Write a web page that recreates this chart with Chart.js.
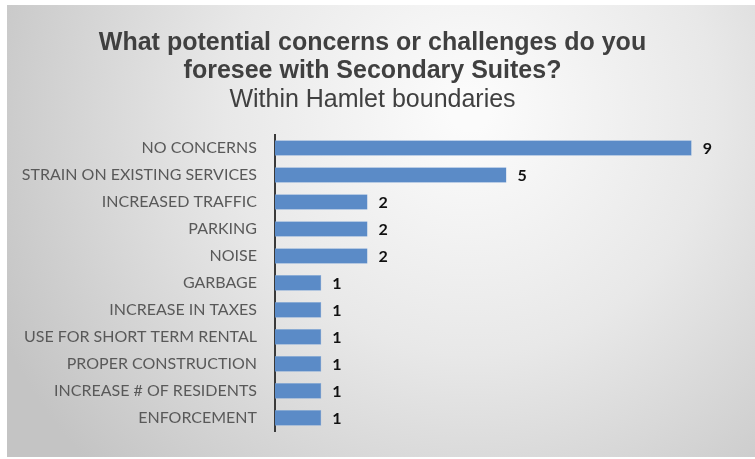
<!DOCTYPE html>
<html>
<head>
<meta charset="utf-8">
<script src="https://cdn.jsdelivr.net/npm/chart.js@4/dist/chart.umd.min.js"></script>
<style>
  body { margin: 0; background: #fff; }
  canvas { display: block; }
</style>
</head>
<body>
<canvas id="concernsChart" width="755" height="459"></canvas>
<script>
const categories = [
    'NO CONCERNS',
    'STRAIN ON EXISTING SERVICES',
    'INCREASED TRAFFIC',
    'PARKING',
    'NOISE',
    'GARBAGE',
    'INCREASE IN TAXES',
    'USE FOR SHORT TERM RENTAL',
    'PROPER CONSTRUCTION',
    'INCREASE # OF RESIDENTS',
    'ENFORCEMENT'
];
const responses = [9, 5, 2, 2, 2, 1, 1, 1, 1, 1, 1];
const titleLines = ['What potential concerns or challenges do you', 'foresee with Secondary Suites?'];
const subtitleText = 'Within Hamlet boundaries';

// gray panel with a soft light centre, like the original slide
const backdrop = {
    id: 'backdrop',
    beforeDraw(chart) {
        const c = chart.ctx;
        c.save();
        c.fillStyle = '#ffffff';
        c.fillRect(0, 0, chart.width, chart.height);
        const g = c.createRadialGradient(470, 110, 20, 470, 110, 520);
        g.addColorStop(0, '#fbfbfb');
        g.addColorStop(0.45, '#e8e8e8');
        g.addColorStop(1, '#c4c4c4');
        c.fillStyle = g;
        c.fillRect(7, 5, chart.width - 7, 452);
        c.restore();
    }
};

// value labels at the end of each bar
const valueLabels = {
    id: 'valueLabels',
    afterDatasetsDraw(chart) {
        const c = chart.ctx;
        const meta = chart.getDatasetMeta(0);
        c.save();
        c.font = 'bold 16px Lato';
        c.fillStyle = '#111111';
        c.textAlign = 'left';
        c.textBaseline = 'middle';
        meta.data.forEach((bar, i) => {
            c.fillText(responses[i], bar.x + 11, bar.y + 1);
        });
        c.restore();
    }
};

const ctx = document.getElementById('concernsChart').getContext('2d');
const concernsChart = new Chart(ctx, {
    type: 'bar',
    data: {
        labels: categories,
        datasets: [{
            data: responses,
            backgroundColor: '#5b8bc7',
            borderColor: '#8fb1dc',
            borderWidth: 0.5,
            barPercentage: 0.58,
            categoryPercentage: 1.0
        }]
    },
    options: {
        indexAxis: 'y',
        responsive: false,
        devicePixelRatio: 1,
        animation: false,
        layout: {
            padding: { top: 5, left: 7, right: 17, bottom: 22 }
        },
        plugins: {
            legend: { display: false },
            tooltip: { enabled: false },
            title: {
                display: true,
                text: titleLines,
                color: '#404040',
                font: { family: 'Liberation Sans', size: 25, weight: 'bold', lineHeight: 1.12 },
                padding: { top: 24, bottom: 0 }
            },
            subtitle: {
                display: true,
                text: subtitleText,
                color: '#404040',
                font: { family: 'Liberation Sans', size: 25, weight: 'normal', lineHeight: 1.1 },
                padding: { top: 1, bottom: 21 }
            }
        },
        scales: {
            x: {
                display: false,
                min: 0,
                max: 10
            },
            y: {
                afterFit(scale) { scale.width = 268; },
                grid: { display: false, drawTicks: false },
                border: { display: true, color: '#3a3a3a', width: 2 },
                ticks: {
                    color: '#595959',
                    padding: 18,
                    font: { family: 'Lato', size: 16 }
                }
            }
        }
    },
    plugins: [backdrop, valueLabels]
});
</script>
</body>
</html>
